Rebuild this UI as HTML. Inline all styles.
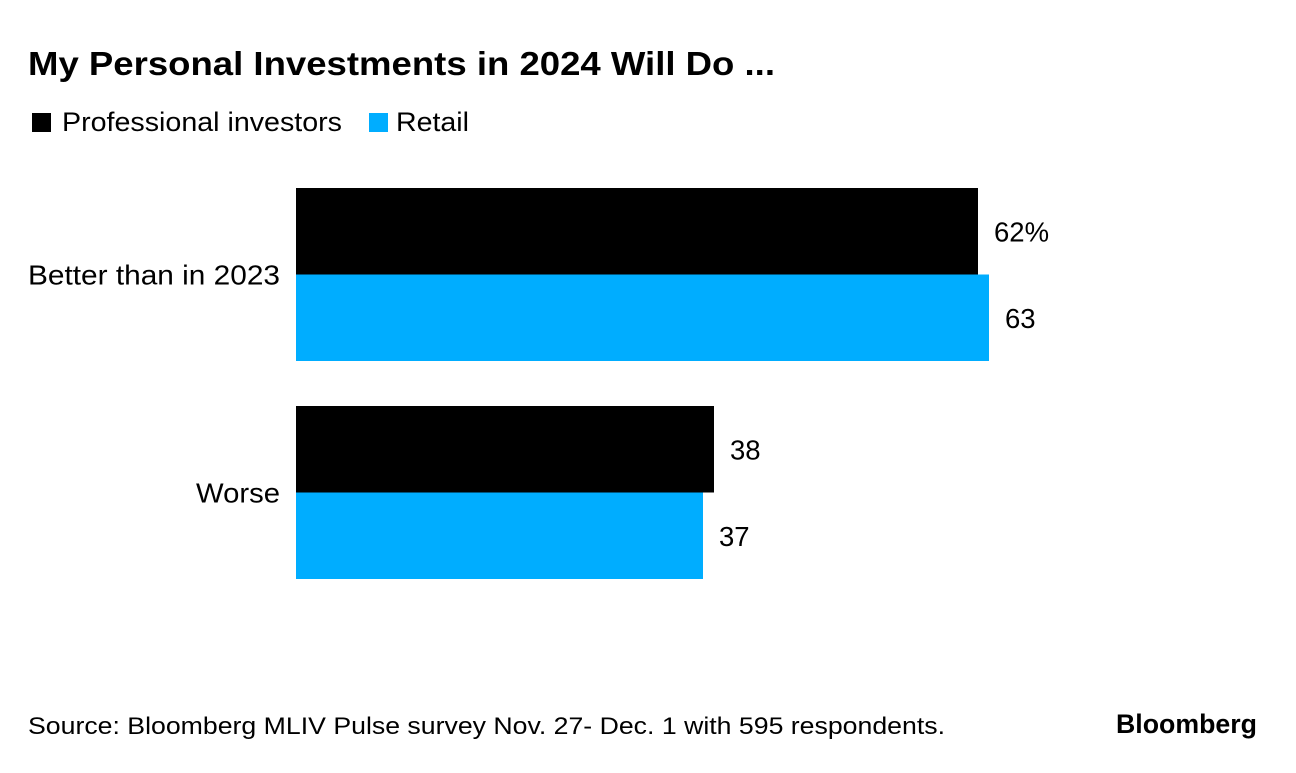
<!DOCTYPE html>
<html><head><meta charset="utf-8">
<style>
html,body{margin:0;padding:0;background:#fff;}
body{width:1296px;height:768px;overflow:hidden;font-family:"Liberation Sans",Arial,sans-serif;color:#000;}
</style></head>
<body>
<svg width="1296" height="768" xmlns="http://www.w3.org/2000/svg">
<text x="28" y="75" font-size="33" font-weight="bold" textLength="747" lengthAdjust="spacingAndGlyphs" font-family="Liberation Sans, sans-serif">My Personal Investments in 2024 Will Do ...</text>
<g>
<rect x="32" y="113" width="19" height="19" fill="#000"/>
<text x="62" y="131" font-size="27" textLength="280" lengthAdjust="spacingAndGlyphs" font-family="Liberation Sans, sans-serif">Professional investors</text>
<rect x="369" y="113" width="19" height="19" fill="#00adff"/>
<text x="396" y="131" font-size="27" textLength="73" lengthAdjust="spacingAndGlyphs" font-family="Liberation Sans, sans-serif">Retail</text>
</g>
<g id="bars"></g>
<text x="28" y="734" font-size="24.5" textLength="917" lengthAdjust="spacingAndGlyphs" font-family="Liberation Sans, sans-serif">Source: Bloomberg MLIV Pulse survey Nov. 27- Dec. 1 with 595 respondents.</text>
<text x="1116" y="733" font-size="27" font-weight="bold" textLength="141" lengthAdjust="spacingAndGlyphs" font-family="Liberation Sans, sans-serif">Bloomberg</text>
</svg>
<script>
const categories = ["Better than in 2023", "Worse"];
const professional = [62, 38];
const retail = [63, 37];
const valueLabels = [["62%", "63"], ["38", "37"]];
const catLabelWidths = [252, 84];

const x0 = 296, pxPerUnit = 11;
const xScale = v => x0 + v * pxPerUnit;
const groupTop = i => 188 + i * 218;
const barH = 86.5;
const NS = "http://www.w3.org/2000/svg";
const g = document.getElementById("bars");
function mk(tag, attrs){const e=document.createElementNS(NS,tag);for(const k in attrs)e.setAttribute(k,attrs[k]);return e;}
categories.forEach((c,i)=>{
  const top = groupTop(i);
  const lab = mk("text",{x:280-catLabelWidths[i],y:top+barH+10,"font-size":27.5,textLength:catLabelWidths[i],lengthAdjust:"spacingAndGlyphs","font-family":"Liberation Sans, sans-serif"});
  lab.textContent = c;
  
  
  g.appendChild(lab);
  [[professional,"#000"],[retail,"#00adff"]].forEach(([arr,col],j)=>{
    const y = top + j*barH;
    const r = mk("rect",{x:x0,y:y,width:xScale(arr[i])-x0,height:barH,fill:col});
    
    
    g.appendChild(r);
    const t = mk("text",{x:xScale(arr[i])+16,y:y+barH/2+10,"font-size":27.5,"font-family":"Liberation Sans, sans-serif"});
    t.textContent = valueLabels[i][j];
    
    
    g.appendChild(t);
  });
});
</script>
</body></html>
